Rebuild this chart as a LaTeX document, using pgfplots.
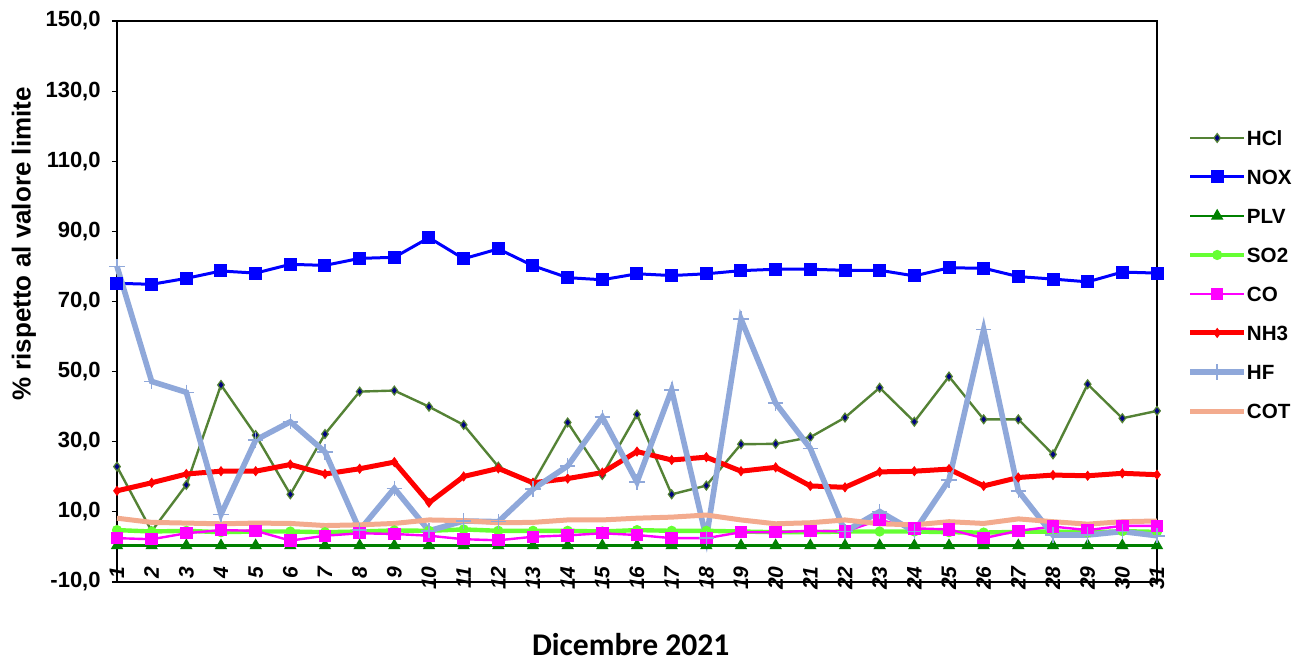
\documentclass[border=0pt]{standalone}
\usepackage{fontspec}
\setmainfont{Liberation Sans}
\newfontfamily\carlito{Carlito}
\usepackage{pgfplots}
\pgfplotsset{compat=1.18}
\usepackage{pgfplotstable}

\definecolor{hclc}{HTML}{548235}
\definecolor{hclm}{HTML}{000080}
\definecolor{noxc}{HTML}{0000FF}
\definecolor{plvc}{HTML}{008000}
\definecolor{so2c}{HTML}{66FF33}
\definecolor{coc}{HTML}{FF00FF}
\definecolor{nh3c}{HTML}{FF0000}
\definecolor{hfc}{HTML}{8FA8DA}
\definecolor{cotc}{HTML}{F3AB8E}

\pgfplotstableread{
x HCl NOX PLV SO2 CO NH3 HF COT
1 22.9 75.2 0.4 4.8 2.5 16.0 80.0 8.2
2 4.5 74.9 0.4 4.4 2.2 18.3 47.2 7.0
3 17.7 76.6 0.4 4.6 3.9 20.8 44.1 6.8
4 46.2 78.7 0.4 4.2 4.8 21.6 9.3 6.6
5 31.9 78.1 0.4 4.4 4.6 21.6 30.5 6.8
6 15.0 80.6 0.4 4.4 1.8 23.5 35.7 6.7
7 32.2 80.3 0.4 4.2 3.2 20.8 27.1 6.1
8 44.3 82.3 0.4 4.4 3.9 22.3 4.8 6.3
9 44.6 82.6 0.4 4.7 3.7 24.2 16.7 6.7
10 40.0 88.2 0.4 4.6 3.2 12.6 4.6 7.7
11 34.8 82.2 0.4 5.0 2.2 20.1 7.4 7.5
12 22.9 85.0 0.4 4.6 1.9 22.4 7.2 6.9
13 18.2 80.2 0.4 4.6 2.9 18.3 16.5 7.0
14 35.5 76.8 0.4 4.6 3.3 19.5 23.1 7.7
15 20.5 76.2 0.4 4.4 3.9 21.2 37.0 7.7
16 37.8 77.9 0.4 4.8 3.4 27.2 18.5 8.2
17 15.0 77.4 0.4 4.6 2.5 24.8 44.8 8.5
18 17.5 77.9 0.4 4.6 2.5 25.6 2.5 9.1
19 29.3 78.8 0.4 4.4 4.2 21.6 65.0 7.7
20 29.4 79.2 0.4 4.2 4.2 22.7 41.0 6.6
21 31.3 79.2 0.4 4.2 4.6 17.4 28.1 6.9
22 36.9 78.9 0.4 4.4 4.4 17.0 4.4 7.7
23 45.4 78.9 0.4 4.4 7.7 21.4 10.1 6.6
24 35.7 77.3 0.4 4.4 5.3 21.6 4.4 6.3
25 48.6 79.6 0.4 4.2 5.0 22.2 19.1 7.2
26 36.4 79.5 0.4 4.1 2.5 17.4 62.0 6.7
27 36.4 77.1 0.4 4.3 4.6 19.8 16.0 8.0
28 26.4 76.4 0.4 4.4 5.8 20.5 3.4 7.2
29 46.4 75.6 0.4 4.1 4.8 20.3 3.4 6.5
30 36.7 78.4 0.4 4.5 6.0 21.0 4.4 7.2
31 38.8 78.1 0.4 4.3 6.0 20.6 3.2 7.4
}\data

\begin{document}
\begin{tikzpicture}
\begin{axis}[
  scale only axis,
  width=520pt, height=280.5pt,
  xmin=1, xmax=31, ymin=-10, ymax=150,
  clip=false,
  axis line style={black, line width=0.6pt},
  xtick={1,...,31},
  xticklabels={1,2,3,4,5,6,7,8,9,10,11,12,13,14,15,16,17,18,19,20,21,22,23,24,25,26,27,28,29,30,31},
  major x tick style={draw=none},
  xticklabel shift=-10.5pt,
  xticklabel style={rotate=90, anchor=east, inner sep=0pt, font=\bfseries\itshape\fontsize{10.5}{12}\selectfont},
  ytick={-10,10,30,50,70,90,110,130,150},
  yticklabels={{-10,0},{10,0},{30,0},{50,0},{70,0},{90,0},{110,0},{130,0},{150,0}},
  ytick pos=left,
  tick align=outside,
  major tick length=2.5pt,
  major y tick style={black, line width=0.6pt},
  yticklabel style={anchor=east, inner sep=0pt, xshift=-5.5pt, font=\bfseries\fontsize{11}{13}\selectfont},
  ylabel={\% rispetto al valore limite},
  every axis y label/.style={at={(axis description cs:-0.0894,0.6025)}, rotate=90, anchor=center, font=\bfseries\fontsize{13}{15}\selectfont},
  xlabel={Dicembre 2021},
  every axis x label/.style={at={(axis description cs:0.494,-0.1319)}, anchor=base, font=\carlito\bfseries\fontsize{15.8}{18}\selectfont},
  legend image code/.code={\draw[mark repeat=2,mark phase=2,#1] plot coordinates {(0pt,0pt) (13.5pt,0pt) (27pt,0pt)};},
  legend cell align=left,
  legend style={draw=none, fill=none, at={(axis description cs:1,0.548)}, xshift=15pt, anchor=west, inner sep=0pt, column sep=0pt, row sep=12pt, nodes={inner sep=0pt, text height=7.5pt, text depth=0pt}, font=\bfseries\fontsize{10.3}{12}\selectfont},
]
\addplot[color=hclc, line width=1.2pt, mark=diamond*, mark size=2.2pt, mark options={fill=hclm, draw=hclc, line width=0.6pt}] table[x=x,y=HCl]{\data};
\addlegendentry{HCl}
\addplot[color=noxc, line width=1.5pt, mark=square*, mark size=2.5pt, mark options={fill=noxc}] table[x=x,y=NOX]{\data};
\addlegendentry{NOX}
\addplot[color=plvc, line width=1.2pt, mark=triangle*, mark size=2.4pt, mark options={fill=plvc}] table[x=x,y=PLV]{\data};
\addlegendentry{PLV}
\addplot[color=so2c, line width=2.2pt, mark=*, mark size=2.3pt, mark options={fill=so2c, line width=0.5pt}] table[x=x,y=SO2]{\data};
\addlegendentry{SO2}
\addplot[color=coc, line width=1.2pt, mark=square*, mark size=2.5pt, mark options={fill=coc}] table[x=x,y=CO]{\data};
\addlegendentry{CO}
\addplot[color=nh3c, line width=2.5pt, mark=diamond*, mark size=2.2pt, mark options={fill=nh3c, line width=0.5pt}] table[x=x,y=NH3]{\data};
\addlegendentry{NH3}
\addplot[color=hfc, line width=2.8pt, mark=+, mark size=3.8pt, mark options={line width=0.8pt}] table[x=x,y=HF]{\data};
\addlegendentry{HF}
\addplot[color=cotc, line width=2.5pt, mark=none] table[x=x,y=COT]{\data};
\addlegendentry{COT}
\end{axis}
\pgfresetboundingbox
\useasboundingbox (-58.5pt,-38.5pt) rectangle (590pt,291pt);
\end{tikzpicture}
\end{document}
